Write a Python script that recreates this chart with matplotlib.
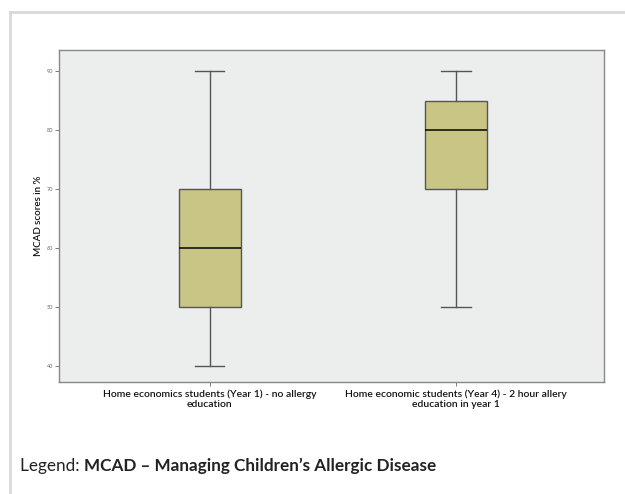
import matplotlib
matplotlib.use("Agg")
import matplotlib.pyplot as plt
from matplotlib.lines import Line2D

# Datos (resumen de cada caja)
grupos = ["Home economics students (Year 1) - no allergy\neducation",
          "Home economic students (Year 4) - 2 hour allery\neducation in year 1"]
minimos = [40, 50]
q1 = [50, 70]
medianas = [60, 80]
q3 = [70, 85]
maximos = [90, 90]
ticks_y = [40, 50, 60, 70, 80, 90]

plt.rcParams['font.family'] = ['Lato', 'DejaVu Sans']

fig = plt.figure(figsize=(6.25, 4.94), dpi=100)
ax = fig.add_axes([59 / 625, 1 - 382 / 494, 545 / 625, 332 / 494])

stats = []
for i in range(len(grupos)):
    stats.append({"whislo": minimos[i], "q1": q1[i], "med": medianas[i],
                  "q3": q3[i], "whishi": maximos[i], "fliers": [], "label": grupos[i]})

ax.bxp(stats, positions=[1, 2], widths=0.252, patch_artist=True,
       boxprops=dict(facecolor="#c9c585", edgecolor="#555555", linewidth=1),
       medianprops=dict(color="#111111", linewidth=1.2),
       whiskerprops=dict(color="#555555", linewidth=1),
       capprops=dict(color="#555555", linewidth=1),
       capwidths=0.12)

ax.set_facecolor("#eceeed")
ax.set_xlim(0.389, 2.60)
ax.set_ylim(37.3, 93.6)
ax.set_yticks(ticks_y)
ax.set_yticklabels([str(t) for t in ticks_y], fontsize=4, color="#666666")
ax.tick_params(axis="y", length=3, width=0.6, color="#666666", pad=1)
ax.tick_params(axis="x", length=3, width=0.6, color="#666666", pad=2.5)
for lbl in ax.get_xticklabels():
    lbl.set_fontsize(7.5)
    lbl.set_linespacing(1.1)
    lbl.set_color("#111111")
    lbl.set_fontweight("semibold")
for s in ax.spines.values():
    s.set_color("#888888")
    s.set_linewidth(1)

ax.set_ylabel("MCAD scores in %", fontsize=7, color="#111111", labelpad=3,
              fontweight="semibold")

# Marco gris exterior (arriba e izquierda)
fig.add_artist(Line2D([10 / 625, 1], [1 - 12 / 494, 1 - 12 / 494],
                      transform=fig.transFigure, color="#d9d9d9", linewidth=2))
fig.add_artist(Line2D([10 / 625, 10 / 625], [0, 1 - 12 / 494],
                      transform=fig.transFigure, color="#d9d9d9", linewidth=2))

# Leyenda con parte en negrita
t1 = fig.text(20 / 625, 1 - 466 / 494, "Legend: ", fontsize=12.3, color="#222222", va="center")
fig.canvas.draw()
bb = t1.get_window_extent()
x2 = bb.x1 / fig.bbox.width
fig.text(x2, 1 - 466 / 494, "MCAD \u2013 Managing Children\u2019s Allergic Disease",
         fontsize=12.3, fontweight="bold", color="#222222", va="center")

fig.savefig("out.png", dpi=100)
